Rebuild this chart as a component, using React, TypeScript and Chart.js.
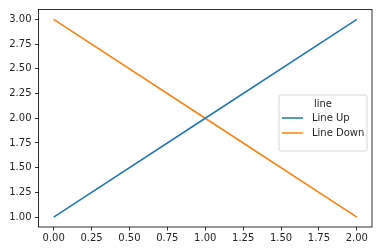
import React, { useEffect, useRef } from "react";
import { Chart, registerables } from "chart.js";

Chart.register(...registerables);

const xValues = [0, 1, 2];
const lineUp = [1, 2, 3];
const lineDown = [3, 2, 1];
const seriesNames = ["Line Up", "Line Down"];
const legendTitle = "line";
const xTicks = [0, 0.25, 0.5, 0.75, 1, 1.25, 1.5, 1.75, 2];
const yTicks = [1, 1.25, 1.5, 1.75, 2, 2.25, 2.5, 2.75, 3];

const FONT = "DejaVu Sans";
const TEXT = "#262626";

const framePlugin = {
  id: "frame",
  afterDatasetsDraw(chart: any) {
    const { ctx, chartArea: a } = chart;
    ctx.save();
    ctx.strokeStyle = "#000";
    ctx.lineWidth = 0.8;
    ctx.strokeRect(a.left, a.top, a.right - a.left, a.bottom - a.top);
    ctx.restore();
  },
};

const legendPlugin = {
  id: "mplLegend",
  afterDraw(chart: any) {
    const { ctx, chartArea: a } = chart;
    const w = 88;
    const h = 56;
    const x = a.right - 5 - w;
    const y = 95;
    ctx.save();
    ctx.fillStyle = "rgba(255,255,255,0.8)";
    ctx.strokeStyle = "#cccccc";
    ctx.lineWidth = 0.8;
    const r = 2;
    ctx.beginPath();
    ctx.moveTo(x + r, y);
    ctx.lineTo(x + w - r, y);
    ctx.arcTo(x + w, y, x + w, y + r, r);
    ctx.lineTo(x + w, y + h - r);
    ctx.arcTo(x + w, y + h, x + w - r, y + h, r);
    ctx.lineTo(x + r, y + h);
    ctx.arcTo(x, y + h, x, y + h - r, r);
    ctx.lineTo(x, y + r);
    ctx.arcTo(x, y, x + r, y, r);
    ctx.closePath();
    ctx.fill();
    ctx.stroke();
    ctx.font = `10px "${FONT}"`;
    ctx.fillStyle = TEXT;
    ctx.textBaseline = "middle";
    ctx.textAlign = "center";
    ctx.fillText(legendTitle, x + w / 2, y + 9);
    ctx.textAlign = "left";
    chart.data.datasets.forEach((ds: any, i: number) => {
      const yy = y + 23 + i * 15;
      ctx.strokeStyle = ds.borderColor;
      ctx.lineWidth = 1.5;
      ctx.beginPath();
      ctx.moveTo(x + 3, yy);
      ctx.lineTo(x + 24, yy);
      ctx.stroke();
      ctx.fillStyle = TEXT;
      ctx.fillText(ds.label, x + 33, yy);
    });
    ctx.restore();
  },
};

const fmt = (v: number) => v.toFixed(2);

export default function App() {
  const ref = useRef<HTMLCanvasElement>(null);
  useEffect(() => {
    document.body.style.margin = "0";
    const chart = new Chart(ref.current!, {
      type: "line",
      data: {
        datasets: [
          {
            label: seriesNames[0],
            data: xValues.map((x, i) => ({ x, y: lineUp[i] })),
            borderColor: "#1f77b4",
            backgroundColor: "#1f77b4",
            borderWidth: 1.5,
            pointRadius: 0,
            tension: 0,
          },
          {
            label: seriesNames[1],
            data: xValues.map((x, i) => ({ x, y: lineDown[i] })),
            borderColor: "#ff7f0e",
            backgroundColor: "#ff7f0e",
            borderWidth: 1.5,
            pointRadius: 0,
            tension: 0,
          },
        ],
      },
      options: {
        animation: false,
        responsive: false,
        devicePixelRatio: 1,
        layout: { padding: { top: 9, right: 11, left: 0, bottom: 0 } },
        plugins: { legend: { display: false }, tooltip: { enabled: false } },
        scales: {
          x: {
            type: "linear",
            min: -0.1,
            max: 2.1,
            afterBuildTicks: (s: any) => {
              s.ticks = xTicks.map((v) => ({ value: v }));
            },
            afterFit: (s: any) => {
              s.height = 22;
            },
            ticks: {
              callback: (v: any) => fmt(Number(v)),
              font: { family: FONT, size: 10 },
              color: TEXT,
              padding: 2,
              maxRotation: 0,
              autoSkip: false,
            },
            grid: {
              drawOnChartArea: false,
              drawTicks: true,
              tickLength: 3.5,
              color: "#000",
              lineWidth: 0.8,
            },
            border: { display: false },
          },
          y: {
            type: "linear",
            min: 0.9,
            max: 3.1,
            afterBuildTicks: (s: any) => {
              s.ticks = yTicks.map((v) => ({ value: v }));
            },
            afterFit: (s: any) => {
              s.width = 38.5;
            },
            ticks: {
              callback: (v: any) => fmt(Number(v)),
              font: { family: FONT, size: 10 },
              color: TEXT,
              padding: 3.5,
              autoSkip: false,
            },
            grid: {
              drawOnChartArea: false,
              drawTicks: true,
              tickLength: 3.5,
              color: "#000",
              lineWidth: 0.8,
            },
            border: { display: false },
          },
        },
      },
      plugins: [framePlugin, legendPlugin],
    });
    return () => chart.destroy();
  }, []);
  return (
    <div style={{ position: "absolute", left: 0, top: 0, width: 383, height: 249 }}>
      <canvas ref={ref} width={383} height={249} style={{ width: 383, height: 249 }} />
    </div>
  );
}
